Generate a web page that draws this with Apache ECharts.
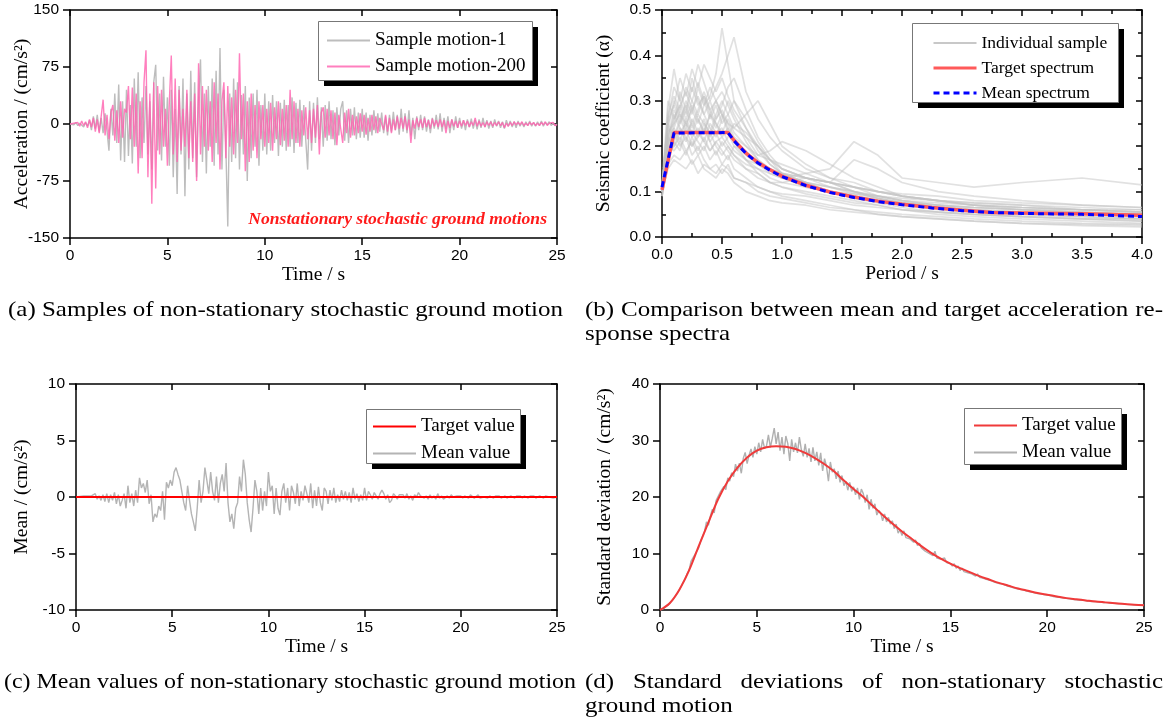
<!DOCTYPE html>
<html><head><meta charset="utf-8">
<script src="https://cdn.jsdelivr.net/npm/echarts@6.0.0/dist/echarts.min.js"></script>
<style>html,body{margin:0;padding:0;background:#fff}#c{width:1172px;height:724px}</style>
</head><body><div id="c"></div><script>
// ---------- DATA ----------
const DT = 0.1; // sampling step (s) of the digitised time histories
const motion1 = [
0,1,-1,2,-2,1,3,-4,2,-3,
5,-8,10,-6,12,-10,8,-12,14,-9,
-35,20,-15,40,-25,52,-48,30,-50,45,
-42,25,-52,60,-30,68,-45,35,-25,50,
-40,30,-60,55,78,-35,40,-48,62,-30,
35,-55,45,-70,20,-92,50,-40,60,-95,
40,-60,70,-45,55,-70,30,85,-50,40,
-65,50,-30,60,-55,70,-40,100,-60,45,
-30,-135,40,-50,60,-45,55,-60,38,-40,
50,-75,35,-45,40,-30,45,-55,25,-35,
40,-40,30,-35,38,-25,30,-42,28,-30,
32,-35,25,-30,35,-38,28,-25,32,-30,
25,-20,-60,30,-35,28,-25,35,-20,22,
-30,25,-22,30,-20,18,-28,22,-15,20,
30,-22,18,-25,20,-15,22,-20,15,-18,
20,-18,15,-22,12,-15,18,-12,14,-10,
15,-12,10,-15,12,-10,16,-8,12,-14,
20,-10,14,-12,18,-15,8,-20,10,-8,
12,-8,10,-10,6,-12,8,-6,12,-7,
14,-10,8,-6,10,-12,6,-8,10,-5,
8,-6,5,-8,6,-4,7,-6,5,-7,
6,-5,8,-4,5,-6,4,-5,6,-3,
4,-5,3,-6,5,-3,4,-4,3,-5,
4,-3,2,-4,3,-2,4,-3,2,-3,
3,-2,4,-3,2,-1,3,-2,1,-2,
0];
const motion200 = [
0,-1,1,0,2,-3,4,-2,3,-5,
6,-4,8,-10,6,-12,10,32,-15,12,
-20,15,25,-22,18,-25,30,-18,20,15,
50,-20,48,-30,40,-65,30,-45,55,97,
-70,40,-105,55,-85,50,-40,45,-30,20,
-55,30,90,-40,60,-50,45,-35,20,-30,
45,-45,30,-50,40,-75,80,-40,50,-30,
45,-35,30,-50,55,-25,40,-60,30,55,
-45,50,-30,35,-40,45,-25,93,-20,40,
-62,30,-50,40,-35,25,-45,30,-20,25,
-30,20,-25,28,-35,22,-20,30,-28,20,
-22,25,-30,45,-20,30,-25,20,-30,18,
-15,22,-20,18,-25,20,-18,25,-40,15,
22,-18,20,-15,18,-20,15,-28,12,10,
-25,15,-12,20,-18,12,-15,10,-12,14,
-10,12,-14,8,-10,12,-8,10,-12,8,
10,-8,12,-10,8,-12,6,-8,10,-6,
8,-6,10,-8,6,-25,5,-6,8,-4,
6,-5,8,-4,5,-6,7,-3,5,-4,
6,-4,5,-12,4,-5,6,-3,4,-5,
4,-3,5,-2,4,-4,3,-2,8,-3,
4,-3,2,-4,3,-2,3,-3,2,-2,
3,-2,2,-5,1,-3,2,-2,3,-1,
2,-1,3,-2,1,-2,2,-1,2,-2,
1,-2,2,-1,3,-2,1,-1,2,-2,
-1];

const periods = [0,0.05,0.1,0.15,0.2,0.25,0.3,0.35,0.4,0.45,0.5,0.55,0.6,0.7,0.8,0.9,1.0,1.2,1.4,1.6,1.8,2.0,2.3,2.6,3.0,3.5,4.0];
const sample01 = [0.10,0.22,0.28,0.25,0.30,0.27,0.33,0.29,0.31,0.36,0.46,0.38,0.30,0.24,0.19,0.16,0.14,0.12,0.10,0.085,0.075,0.065,0.055,0.05,0.045,0.04,0.035];
const sample02 = [0.11,0.26,0.33,0.30,0.36,0.32,0.38,0.34,0.30,0.33,0.36,0.40,0.44,0.32,0.26,0.22,0.19,0.15,0.13,0.11,0.09,0.08,0.07,0.06,0.055,0.05,0.045];
const sample03 = [0.09,0.18,0.20,0.22,0.19,0.21,0.18,0.20,0.17,0.19,0.16,0.18,0.15,0.13,0.11,0.10,0.09,0.08,0.07,0.06,0.055,0.05,0.045,0.04,0.035,0.03,0.028];
const sample04 = [0.10,0.20,0.25,0.27,0.24,0.29,0.26,0.23,0.27,0.25,0.22,0.24,0.21,0.18,0.16,0.14,0.13,0.11,0.10,0.09,0.08,0.07,0.065,0.06,0.055,0.05,0.05];
const sample05 = [0.11,0.24,0.30,0.27,0.25,0.28,0.31,0.27,0.24,0.22,0.26,0.30,0.27,0.22,0.18,0.17,0.16,0.14,0.12,0.10,0.09,0.08,0.07,0.065,0.06,0.055,0.05];
const sample06 = [0.10,0.19,0.23,0.20,0.22,0.18,0.20,0.17,0.15,0.16,0.14,0.16,0.13,0.12,0.10,0.09,0.085,0.075,0.065,0.06,0.05,0.045,0.04,0.035,0.03,0.028,0.025];
const sample07 = [0.10,0.22,0.26,0.29,0.32,0.28,0.25,0.29,0.33,0.30,0.27,0.25,0.22,0.20,0.18,0.19,0.21,0.19,0.16,0.13,0.11,0.09,0.08,0.07,0.06,0.055,0.05];
const sample08 = [0.11,0.25,0.22,0.26,0.23,0.25,0.22,0.24,0.21,0.23,0.24,0.21,0.19,0.17,0.15,0.13,0.12,0.11,0.10,0.095,0.09,0.085,0.08,0.075,0.07,0.06,0.055];
const sample09 = [0.09,0.16,0.18,0.17,0.19,0.16,0.18,0.15,0.14,0.13,0.15,0.14,0.12,0.10,0.09,0.08,0.075,0.07,0.06,0.055,0.05,0.045,0.04,0.035,0.03,0.025,0.022];
const sample10 = [0.10,0.21,0.27,0.24,0.21,0.26,0.23,0.26,0.22,0.26,0.28,0.25,0.24,0.22,0.20,0.17,0.15,0.13,0.12,0.11,0.10,0.09,0.08,0.07,0.065,0.06,0.055];
const sample11 = [0.10,0.23,0.25,0.32,0.28,0.35,0.30,0.27,0.30,0.26,0.29,0.33,0.35,0.28,0.22,0.18,0.15,0.13,0.11,0.095,0.085,0.075,0.07,0.065,0.06,0.055,0.05];
const sample12 = [0.11,0.20,0.24,0.21,0.26,0.23,0.21,0.19,0.23,0.20,0.18,0.20,0.18,0.16,0.15,0.14,0.13,0.14,0.15,0.21,0.18,0.13,0.12,0.11,0.12,0.13,0.115];
const sample13 = [0.10,0.28,0.37,0.30,0.27,0.33,0.29,0.31,0.27,0.24,0.27,0.24,0.21,0.17,0.14,0.12,0.11,0.10,0.09,0.08,0.07,0.06,0.05,0.045,0.04,0.035,0.03];
const sample14 = [0.09,0.17,0.21,0.24,0.22,0.20,0.23,0.21,0.19,0.21,0.19,0.17,0.20,0.19,0.16,0.15,0.13,0.12,0.11,0.10,0.085,0.075,0.065,0.06,0.055,0.05,0.045];
const sample15 = [0.10,0.24,0.22,0.25,0.28,0.24,0.27,0.25,0.23,0.27,0.30,0.27,0.24,0.27,0.30,0.25,0.20,0.16,0.13,0.12,0.10,0.09,0.08,0.07,0.065,0.06,0.06];
const sample16 = [0.11,0.26,0.29,0.35,0.31,0.37,0.33,0.38,0.35,0.32,0.35,0.31,0.28,0.24,0.20,0.17,0.15,0.13,0.12,0.11,0.10,0.09,0.08,0.075,0.07,0.065,0.06];
const sample17 = [0.10,0.15,0.17,0.16,0.15,0.17,0.14,0.16,0.15,0.14,0.16,0.15,0.13,0.12,0.11,0.10,0.095,0.09,0.08,0.07,0.065,0.06,0.055,0.05,0.045,0.04,0.04];
const sample18 = [0.10,0.22,0.20,0.23,0.25,0.22,0.24,0.21,0.25,0.23,0.20,0.22,0.25,0.23,0.20,0.16,0.14,0.13,0.12,0.17,0.15,0.12,0.10,0.09,0.08,0.07,0.065];
const sample19 = [0.10,0.27,0.31,0.28,0.33,0.30,0.27,0.31,0.28,0.30,0.32,0.29,0.26,0.21,0.17,0.15,0.13,0.115,0.10,0.09,0.08,0.07,0.06,0.055,0.05,0.045,0.04];
const sample20 = [0.10,0.18,0.21,0.19,0.24,0.20,0.22,0.25,0.21,0.18,0.21,0.19,0.17,0.15,0.14,0.12,0.11,0.095,0.085,0.075,0.07,0.06,0.055,0.05,0.045,0.04,0.035];
const sample21 = [0.11,0.30,0.26,0.29,0.26,0.30,0.34,0.30,0.26,0.29,0.25,0.27,0.30,0.26,0.21,0.17,0.14,0.12,0.10,0.09,0.08,0.075,0.07,0.065,0.06,0.06,0.055];
const sample22 = [0.09,0.20,0.19,0.21,0.18,0.22,0.19,0.22,0.19,0.21,0.22,0.20,0.18,0.15,0.13,0.12,0.12,0.13,0.12,0.10,0.085,0.075,0.065,0.055,0.05,0.045,0.04];
const sample23 = [0.10,0.25,0.29,0.26,0.29,0.25,0.28,0.32,0.28,0.25,0.23,0.26,0.23,0.20,0.17,0.15,0.14,0.12,0.11,0.10,0.09,0.08,0.075,0.07,0.065,0.06,0.055];
const sample24 = [0.10,0.21,0.24,0.28,0.25,0.23,0.26,0.23,0.27,0.30,0.27,0.23,0.20,0.17,0.16,0.15,0.14,0.13,0.12,0.11,0.10,0.095,0.09,0.08,0.075,0.07,0.065];
const individualSamples = [sample01,sample02,sample03,sample04,sample05,sample06,sample07,sample08,sample09,sample10,sample11,sample12,
  sample13,sample14,sample15,sample16,sample17,sample18,sample19,sample20,sample21,sample22,sample23,sample24];

const spectrumPeriods = [0,0.1,0.55,0.6,0.7,0.8,0.9,1.0,1.2,1.4,1.6,1.8,2.0,2.25,2.5,2.75,3.0,3.5,4.0];
const targetSpectrum  = [0.104,0.23,0.23,0.213,0.185,0.164,0.148,0.134,0.114,0.099,0.088,0.079,0.072,0.065,0.059,0.054,0.053,0.051,0.048];
const meanSpectrum    = [0.110,0.229,0.230,0.212,0.184,0.163,0.147,0.133,0.113,0.098,0.087,0.078,0.071,0.064,0.058,0.054,0.052,0.050,0.045];

const meanValue = [
0,0,0.05,-0.05,0.1,0,0.1,0.2,0.1,0.2,
0.3,-0.2,0.1,-0.3,0.2,-0.4,0.3,-0.5,0.2,-0.3,
0.4,-0.6,0.2,-0.8,-0.3,0.3,-1.0,1.0,-0.5,0.3,
-0.8,0.6,-0.5,1.7,0.8,1.2,0.4,1.5,-0.6,0.2,
-2.2,-1.5,-1.8,-0.8,-1.2,0.5,-2.0,1.3,0.8,1.5,
1.0,2.2,2.6,2.0,1.5,0.5,-0.5,-1.2,1.0,-0.3,
-1.5,-2.2,-3.0,-1.0,1.5,-0.5,0.5,2.6,1.5,0.3,
2.2,0.5,-0.3,1.8,-0.5,1.2,2.0,0.5,3.0,-0.5,
-2.2,-1.5,-2.8,-1.0,-0.5,1.8,0.5,3.3,2.0,-0.5,
-2.0,-3.1,-1.0,1.5,0.5,-1.5,0.8,-1.2,0.5,-0.8,
2.2,0.5,1.0,-1.5,0.8,-1.0,-1.6,0.5,1.2,-0.5,
0.8,-1.2,1.0,0.4,-0.6,1.2,-0.8,0.5,-0.3,1.0,
0.3,-0.5,1.2,-1.0,0.6,-0.8,0.9,-0.5,-1.2,0.8,
0.5,-0.6,0.6,-0.3,0.8,-0.5,0.2,-0.4,0.6,-0.2,
0.5,-0.3,0.4,-0.5,0.8,-0.2,0.3,-0.4,0.2,-0.3,
0.8,-0.3,0.5,0.2,-0.2,0.4,0.1,-0.2,0.3,0.6,
0.3,-0.2,0.2,-0.5,-0.3,0.3,0.1,-0.2,0.2,0.1,
0.2,-0.1,0.3,-0.2,0.1,-0.3,0.2,0.0,0.4,0.1,
0.2,-0.1,0.1,-0.2,0.2,-0.1,0.1,-0.2,0.3,-0.1,
0.1,-0.2,-0.3,0.1,-0.1,0.2,0.0,-0.1,0.1,0.0,
0.1,-0.1,0.1,0.0,-0.1,0.2,0.1,-0.1,0.0,0.2,
-0.1,-0.2,0.0,0.1,-0.1,0.1,0.0,-0.1,0.1,0.0,
0.1,-0.1,0.0,0.1,-0.1,0.0,0.1,0.0,-0.1,0.1,
0.0,0.1,-0.1,0.1,0.0,-0.1,0.1,0.0,0.1,-0.1,
0.0,0.1,0.0,-0.1,0.1,0.0,0.0,0.1,-0.1,0.0,
0.0];
const targetMeanTime = [0,25];
const targetMean = [0,0];

const stdValue = [
0.0,0.1,0.3,0.5,0.8,1.2,1.6,2.0,2.5,3.0,
3.6,4.2,4.9,5.5,6.4,7.0,8.6,8.3,9.8,10.4,
11.0,12.2,12.4,13.9,15.6,15.0,16.6,17.8,17.2,19.4,
19.2,20.8,21.0,21.9,21.3,23.4,22.8,24.3,23.6,25.8,
24.6,26.0,24.2,26.8,27.9,25.9,27.4,28.5,27.0,28.9,
27.6,29.6,28.0,30.2,28.6,29.0,31.0,28.8,30.4,32.2,
29.4,31.5,28.2,30.6,27.6,30.8,29.5,26.4,30.2,28.0,
29.6,27.8,30.6,28.4,27.2,29.4,27.0,28.6,26.2,28.8,
26.4,28.0,25.6,27.8,24.6,26.8,25.4,22.8,26.2,24.4,
25.0,23.2,24.6,22.6,23.8,22.0,22.8,21.2,22.6,21.0,
21.8,20.4,21.6,19.6,21.4,20.6,19.0,20.4,17.8,19.6,
18.0,18.8,16.8,17.6,17.2,15.8,17.0,15.6,16.4,15.2,
15.8,14.4,15.2,13.6,14.2,13.2,14.0,12.8,13.0,12.6,
12.8,12.0,12.4,11.4,11.8,11.0,11.2,10.4,10.6,10.0,
10.2,9.6,10.4,9.2,9.4,9.0,8.8,9.2,8.4,8.6,
8.2,7.8,8.2,7.4,7.8,7.0,7.4,6.8,7.0,6.6,
6.9,6.4,6.6,6.0,6.4,5.8,6.0,5.6,5.8,5.4,
5.5,5.2,5.3,4.9,5.1,4.7,4.8,4.6,4.7,4.3,
4.4,4.1,4.2,3.9,4.0,3.7,3.8,3.6,3.6,3.4,
3.5,3.2,3.4,3.1,3.2,2.9,3.0,2.8,2.9,2.7,
2.7,2.6,2.6,2.4,2.5,2.3,2.4,2.2,2.3,2.1,
2.1,2.0,2.0,1.9,2.0,1.8,1.9,1.7,1.8,1.7,
1.7,1.6,1.7,1.5,1.6,1.5,1.5,1.4,1.5,1.3,
1.4,1.3,1.3,1.2,1.3,1.2,1.2,1.1,1.2,1.1,
1.1,1.0,1.05,0.95,1.0,0.9,0.95,0.9,0.9,0.85,
0.85];
const stdTargetTime = [0,0.5,1,1.5,2,2.5,3,3.5,4,4.5,5,5.5,6,6.5,7,7.5,8,8.5,9,9.5,10,10.5,11,11.5,12,12.5,13,13.5,14,14.5,15,15.5,16,16.5,17,17.5,18,18.5,19,19.5,20,20.5,21,21.5,22,22.5,23,23.5,24,24.5,25];
const stdTarget = [0,1.2,3.6,7.0,11.3,15.5,19.6,22.8,25.2,27.0,28.2,28.8,29.0,28.9,28.5,27.8,26.9,25.8,24.5,22.9,21.4,20.0,18.4,16.8,15.3,13.9,12.6,11.3,10.1,9.1,8.2,7.4,6.7,6.0,5.4,4.8,4.3,3.8,3.4,3.0,2.7,2.4,2.1,1.9,1.7,1.5,1.35,1.2,1.05,0.95,0.85];

const xTicksTime = {min:0, max:25, interval:5};
const yTicksAcc = {min:-150, max:150, interval:75};
const xTicksPeriod = {min:0, max:4, interval:0.5};
const yTicksCoef = {min:0, max:0.5, interval:0.1};
const yTicksMean = {min:-10, max:10, interval:5};
const yTicksStd = {min:0, max:40, interval:10};

const captions = {
  a: '(a) Samples of non-stationary stochastic ground motion',
  b1: '(b) Comparison between mean and target acceleration re-',
  b2: 'sponse spectra',
  c: '(c) Mean values of non-stationary stochastic ground motion',
  d1: '(d) Standard deviations of non-stationary stochastic',
  d2: 'ground motion'
};

// ---------- BUILD ----------
const SANS = 'Liberation Sans', SERIF = 'Liberation Serif';
const pairs = (xs, ys) => ys.map((v, i) => [xs[i], v]);
const times = n => Array.from({length:n}, (_, i) => +(i * DT).toFixed(2));

const grids = [
  {left:70, top:10, width:487, height:228},
  {left:662, top:10, width:480, height:227},
  {left:76, top:384, width:481, height:226},
  {left:660, top:384, width:484, height:226}
];
const xAxes = [], yAxes = [];
const AX = {color:'#000', width:1.5};
function addAxes(g, xt, yt, opt) {
  const lab = {fontFamily:SANS, fontSize:15.5, color:'#000'};
  const nm = {fontFamily:SERIF, fontSize:19.5, color:'#000'};
  const fx = opt.fmt ? (v => v.toFixed(1)) : null;
  const fy = opt.fmtY ? (v => v.toFixed(1)) : null;
  const xi = xAxes.length;
  xAxes.push({gridIndex:g, type:'value', position:'bottom', ...xt,
    name:opt.xName, nameLocation:'middle', nameGap:opt.xGap, nameTextStyle:nm, nameMoveOverlap:false,
    axisLine:{onZero:false, lineStyle:AX}, splitLine:{show:false},
    axisTick:{inside:false, length:7, lineStyle:AX},
    axisLabel:{...lab, margin:10, formatter:fx, showMinLabel:true, showMaxLabel:true}});
  xAxes.push({gridIndex:g, type:'value', position:'top', ...xt,
    axisLine:{onZero:false, lineStyle:AX}, splitLine:{show:false},
    axisTick:{inside:true, length:6, lineStyle:AX}, axisLabel:{show:false},
    minorTick:{show:!!opt.minor, splitNumber:2, length:4, lineStyle:AX}});
  if (opt.minor) xAxes.push({gridIndex:g, type:'value', position:'bottom', ...xt,
    axisLine:{show:false, onZero:false}, splitLine:{show:false}, axisLabel:{show:false},
    axisTick:{show:false, inside:true}, minorTick:{show:true, splitNumber:2, length:4, lineStyle:AX}});
  const yi = yAxes.length;
  yAxes.push({gridIndex:g, type:'value', position:'left', ...yt,
    name:opt.yName, nameLocation:'middle', nameGap:opt.yGap, nameTextStyle:nm, nameMoveOverlap:false,
    axisLine:{onZero:false, lineStyle:AX}, splitLine:{show:false},
    axisTick:{inside:false, length:7, lineStyle:AX},
    axisLabel:{...lab, margin:11, formatter:fy, showMinLabel:true, showMaxLabel:true}});
  yAxes.push({gridIndex:g, type:'value', position:'right', ...yt,
    axisLine:{onZero:false, lineStyle:AX}, splitLine:{show:false},
    axisTick:{inside:true, length:6, lineStyle:AX}, axisLabel:{show:false},
    minorTick:{show:!!opt.minor, splitNumber:2, length:4, lineStyle:AX}});
  if (opt.minor) yAxes.push({gridIndex:g, type:'value', position:'left', ...yt,
    axisLine:{show:false, onZero:false}, splitLine:{show:false}, axisLabel:{show:false},
    axisTick:{show:false, inside:true}, minorTick:{show:true, splitNumber:2, length:4, lineStyle:AX}});
  return {xi, yi};
}
const A = addAxes(0, xTicksTime, yTicksAcc, {xName:'Time / s', xGap:27, yName:'Acceleration / (cm/s²)', yGap:38});
const B = addAxes(1, xTicksPeriod, yTicksCoef, {xName:'Period / s', xGap:27, yName:'Seismic coefficient (α)', yGap:48, fmt:true, fmtY:true, minor:true});
const C = addAxes(2, xTicksTime, yTicksMean, {xName:'Time / s', xGap:27, yName:'Mean / (cm/s²)', yGap:44});
const D = addAxes(3, xTicksTime, yTicksStd, {xName:'Time / s', xGap:27, yName:'Standard deviation / (cm/s²)', yGap:45});

const line = (ax, name, data, color, width, extra) => Object.assign({
  type:'line', name, xAxisIndex:ax.xi, yAxisIndex:ax.yi, data, symbol:'none', showSymbol:false,
  animation:false, silent:true, lineStyle:{color, width}, itemStyle:{color}}, extra || {});

const series = [];
series.push(line(A, 'Sample motion-1', pairs(times(motion1.length), motion1), '#bdbdbd', 1.4));
series.push(line(A, 'Sample motion-200', pairs(times(motion200.length), motion200), '#ff5fae', 1.4,
  {lineStyle:{color:'#ff5fae', width:1.4, opacity:0.8}}));
individualSamples.forEach(s => series.push(line(B, 'Individual sample', pairs(periods, s), '#cfcfcf', 1,
  {lineStyle:{color:'#c4c4c4', width:1.7, opacity:0.5}})));
series.push(line(B, 'Target spectrum', pairs(spectrumPeriods, targetSpectrum), '#ff5a5a', 3.5));
series.push(line(B, 'Mean spectrum', pairs(spectrumPeriods, meanSpectrum), '#0000ff', 3,
  {lineStyle:{color:'#0000ff', width:3, type:[6,4]}}));
series.push(line(C, 'Mean value', pairs(times(meanValue.length), meanValue), '#b4b4b4', 1.4));
series.push(line(C, 'Target value', pairs(targetMeanTime, targetMean), '#ff0000', 2));
series.push(line(D, 'Mean value', pairs(times(stdValue.length), stdValue), '#b0b0b0', 1.4));
series.push(line(D, 'Target value', pairs(stdTargetTime, stdTarget), '#f03a3a', 2, {smooth:0.3}));

const HIDE = {opacity:0};
const legBase = {orient:'vertical', itemWidth:43, itemHeight:14, padding:0,
  backgroundColor:'transparent', borderWidth:0, z:5,
  textStyle:{fontFamily:SERIF, fontSize:19, color:'#000'}, selectedMode:false};
const legend = [
  {...legBase, left:326, top:31, itemGap:7, data:[
    {name:'Sample motion-1', lineStyle:{color:'#bdbdbd', width:2}, itemStyle:HIDE},
    {name:'Sample motion-200', lineStyle:{color:'#ff5fae', width:2}, itemStyle:HIDE}]},
  {...legBase, left:932, top:34, itemGap:7, textStyle:{fontFamily:SERIF, fontSize:17.5, color:'#000'}, data:[
    {name:'Individual sample', lineStyle:{color:'#c8c8c8', width:2, opacity:1}, itemStyle:HIDE},
    {name:'Target spectrum', lineStyle:{color:'#ff5a5a', width:3}, itemStyle:HIDE},
    {name:'Mean spectrum', lineStyle:{color:'#0000ff', width:3, type:[6,4]}, itemStyle:HIDE}]},
  {...legBase, left:372, top:417, itemGap:8, data:[
    {name:'Target value', lineStyle:{color:'#ff0000', width:2}, itemStyle:HIDE},
    {name:'Mean value', lineStyle:{color:'#b4b4b4', width:2}, itemStyle:HIDE}]},
  {...legBase, left:973, top:416, itemGap:8, data:[
    {name:'Target value', lineStyle:{color:'#f03a3a', width:2}, itemStyle:HIDE},
    {name:'Mean value', lineStyle:{color:'#b0b0b0', width:2}, itemStyle:HIDE}]}
];
// legend frames with drop shadow [x, y, w, h]
const legendFrames = [[318,21,214,59],[912,23,206,79],[366,409,154,54],[964,408,157,56]];
const frameEls = [];
legendFrames.forEach(([x, y, w, h]) => {
  frameEls.push({type:'rect', z:3, shape:{x:x+6, y:y+6, width:w, height:h}, style:{fill:'#000'}});
  frameEls.push({type:'rect', z:3, shape:{x:x+0.5, y:y+0.5, width:w, height:h}, style:{fill:'#fff', stroke:'#777', lineWidth:1}});
});

// captions: Computer-Modern-like width obtained by horizontal stretching to the measured line widths
const CAP_SIZE = 21.5;
const capFont = CAP_SIZE + 'px "' + SERIF + '"';
const ctx = document.createElement('canvas').getContext('2d');
ctx.font = capFont;
const fitScale = (text, w) => w / ctx.measureText(text).width;
const SX = fitScale(captions.a, 555);
const capText = (text, x, y, sx) => ({type:'text', x, y, scaleX:sx || SX, style:{text, font:capFont, fill:'#000', textVerticalAlign:'middle'}});
function justified(text, x0, x1, y) {
  const words = text.split(' ');
  const ws = words.map(w => ctx.measureText(w).width * SX);
  const gap = (x1 - x0 - ws.reduce((a, b) => a + b, 0)) / (words.length - 1);
  let x = x0; const out = [];
  words.forEach((w, i) => { out.push(capText(w, x, y)); x += ws[i] + gap; });
  return out;
}
const graphic = [
  ...frameEls,
  {type:'text', x:547, y:219, style:{text:'Nonstationary stochastic ground motions', font:'italic bold 17.6px "Liberation Serif"', fill:'#ff1a1a', textAlign:'right', textVerticalAlign:'middle'}},
  capText(captions.a, 8, 310),
  ...justified(captions.b1, 585, 1163, 310),
  capText(captions.b2, 585, 334),
  capText(captions.c, 4, 682, fitScale(captions.c, 572)),
  ...justified(captions.d1, 585, 1163, 682),
  capText(captions.d2, 585, 706)
];

const chart = echarts.init(document.getElementById('c'), null, {renderer:'canvas'});
chart.setOption({animation:false, backgroundColor:'#fff', grid:grids, xAxis:xAxes, yAxis:yAxes, series, legend, graphic});
</script></body></html>
